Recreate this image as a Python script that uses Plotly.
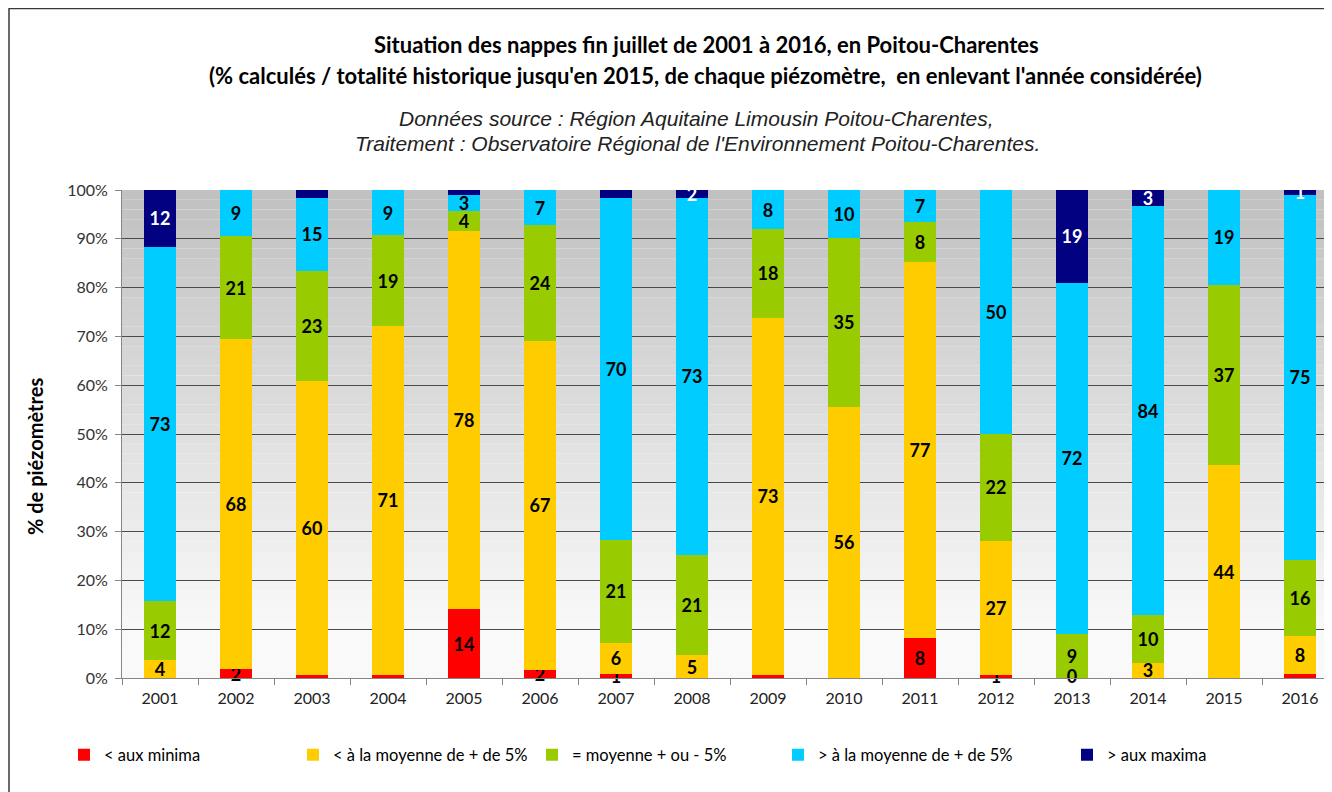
import plotly.graph_objects as go

years = [str(y) for y in range(2001, 2017)]

# % of piezometers per category
minima = [0, 1.8, 0.7, 0.7, 14.1, 1.7, 0.8, 0, 0.7, 0, 8.2, 0.7, 0, 0, 0, 0.9]
sous_moyenne = [3.6, 67.6, 60.1, 71.4, 77.6, 67.4, 6.4, 4.7, 73.1, 55.6, 77.0, 27.4, 0, 3.1, 43.6, 7.7]
moyenne = [12.2, 21.2, 22.6, 18.6, 4.0, 23.7, 21.1, 20.6, 18.2, 34.6, 8.2, 21.9, 9.0, 9.8, 37.0, 15.6]
sur_moyenne = [72.6, 9.4, 15.0, 9.3, 3.3, 7.2, 70.1, 73.1, 8.0, 9.8, 6.6, 50.0, 72.0, 83.8, 19.4, 74.8]
maxima = [11.6, 0, 1.6, 0, 1.0, 0, 1.6, 1.6, 0, 0, 0, 0, 19.0, 3.3, 0, 1.0]

series_names = ["< aux minima", "< à la moyenne de + de 5%", "= moyenne + ou - 5%",
                "> à la moyenne de + de 5%", "> aux maxima"]
series_values = [minima, sous_moyenne, moyenne, sur_moyenne, maxima]
series_colors = ["#FF0000", "#FFCC00", "#99CC00", "#00CCFF", "#000080"]
label_colors = ["black", "black", "black", "black", "white"]
# labels not displayed in the original / zero labels that are displayed
hidden_labels = [{"2003", "2004", "2009", "2016"}, set(), set(), set(), {"2003", "2005", "2007"}]
shown_zero_labels = [set(), {"2013"}, set(), set(), set()]
y_ticks = list(range(0, 101, 10))

OFF = 8  # page body margin
W, H = 1332 - OFF, 792 - OFF
# plot area in page pixels: x 122..1332, y 190..678
L, T = 122 - OFF, 190 - OFF
B = H - (678 - OFF)
R = 0
PW, PH = W - L - R, H - T - B


def px(x):
    return (x - OFF - L) / PW


def py(y):
    return (H - B - (y - OFF)) / PH


label_font = dict(family="Lato, Liberation Sans, sans-serif", size=18, weight="bold")

fig = go.Figure()
legend_text_x = [104, 333, 572, 818, 1107]
zero_x, zero_y, zero_t, zero_c = [], [], [], []
for i, (name, vals, col) in enumerate(zip(series_names, series_values, series_colors)):
    texts = []
    for yr, v in zip(years, vals):
        if yr in hidden_labels[i]:
            texts.append("")
        elif v > 0:
            texts.append(str(round(v)))
        else:
            texts.append("")
    lg = "legend" if i == 0 else f"legend{i + 1}"
    fig.add_trace(go.Bar(
        x=years, y=vals, name=name, marker=dict(color=col, line=dict(width=0)),
        text=texts, textposition="inside", insidetextanchor="middle", textangle=0,
        constraintext="none", cliponaxis=False,
        textfont=dict(color=label_colors[i], **label_font),
        width=0.41, legend=lg,
    ))
    # zero-valued segments whose label is still displayed (at their stacked position)
    for yr in sorted(shown_zero_labels[i]):
        j = years.index(yr)
        base = sum(series_values[k][j] for k in range(i))
        zero_x.append(yr)
        zero_y.append(base + vals[j])
        zero_t.append(str(round(vals[j])))
        zero_c.append(label_colors[i])

if zero_x:
    fig.add_trace(go.Scatter(
        x=zero_x, y=zero_y, text=zero_t, mode="text", textposition="middle center",
        textfont=dict(color=zero_c, **label_font), showlegend=False, cliponaxis=False,
        hoverinfo="skip",
    ))

# gradient plot background
n_strips = 50
for k in range(n_strips):
    v0 = 100 * k / n_strips
    v1 = 100 * (k + 1) / n_strips
    vm = (v0 + v1) / 2
    if vm <= 10:
        g = 249
    else:
        g = round(249 - 57 * (vm - 10) / 90)
    fig.add_shape(type="rect", xref="paper", yref="y", x0=0, x1=1, y0=v0, y1=min(v1, 100),
                  fillcolor=f"rgb({g},{g},{g})", line=dict(width=0), layer="below")

# outer frame
fig.add_shape(type="rect", xref="paper", yref="paper", x0=px(9), x1=px(1345), y0=py(805), y1=py(8.5),
              line=dict(color="#3a3a3a", width=1.5), fillcolor="rgba(0,0,0,0)", layer="above")

title_font = dict(family="Lato, Liberation Sans, sans-serif", size=22, color="black", weight="bold")
sub_font = dict(family="Liberation Sans, Arial, sans-serif", size=21, color="#222222", style="italic")
annots = [
    dict(text="Situation des nappes fin juillet de 2001 à 2016, en Poitou-Charentes", x=px(706), y=py(45), font=title_font),
    dict(text="(% calculés / totalité historique jusqu'en 2015, de chaque piézomètre,  en enlevant l'année considérée)",
         x=px(705), y=py(75), font=title_font),
    dict(text="Données source : Région Aquitaine Limousin Poitou-Charentes,", x=px(696), y=py(118), font=sub_font),
    dict(text="Traitement : Observatoire Régional de l'Environnement Poitou-Charentes.", x=px(697), y=py(143), font=sub_font),
    dict(text="% de piézomètres", x=px(35), y=py(457), textangle=-90,
         font=dict(family="Lato, Liberation Sans, sans-serif", size=20, color="black", weight="bold")),
]
for a in annots:
    fig.add_annotation(xref="paper", yref="paper", showarrow=False, xanchor="center", yanchor="middle", **a)

legend_font = dict(family="Lato, Liberation Sans, sans-serif", size=16.5, color="black")
layout_legends = {}
for i in range(5):
    key = "legend" if i == 0 else f"legend{i + 1}"
    layout_legends[key] = dict(x=px(legend_text_x[i] - 40), y=py(755), xanchor="left", yanchor="middle",
                               orientation="h", font=legend_font, bgcolor="rgba(0,0,0,0)",
                               itemwidth=30, tracegroupgap=0)

fig.update_layout(
    width=W, height=H, margin=dict(l=L, r=R, t=T, b=B),
    barmode="stack", paper_bgcolor="white", plot_bgcolor="white",
    showlegend=True,
    uniformtext=dict(minsize=18, mode="show"),
    xaxis=dict(type="category", range=[-0.5, -0.5 + PW / 76], showline=True, linecolor="#868686", linewidth=1,
               ticks="outside", tickson="boundaries", ticklen=6, tickcolor="#868686",
               ticklabelstandoff=6,
               tickfont=dict(family="Lato, Liberation Sans, sans-serif", size=16, color="#222222"),
               showgrid=False),
    yaxis=dict(range=[0, 100.001], tickvals=y_ticks, ticktext=[f"{v}%" for v in y_ticks],
               showline=True, linecolor="#868686", linewidth=1, ticks="outside", ticklen=6, tickcolor="#868686",
               ticklabelstandoff=4,
               tickfont=dict(family="Lato, Liberation Sans, sans-serif", size=16, color="#333333"),
               showgrid=True, gridcolor="#4a4a4a", gridwidth=1, zeroline=False),
    **layout_legends,
)

fig.write_html("out.html")
